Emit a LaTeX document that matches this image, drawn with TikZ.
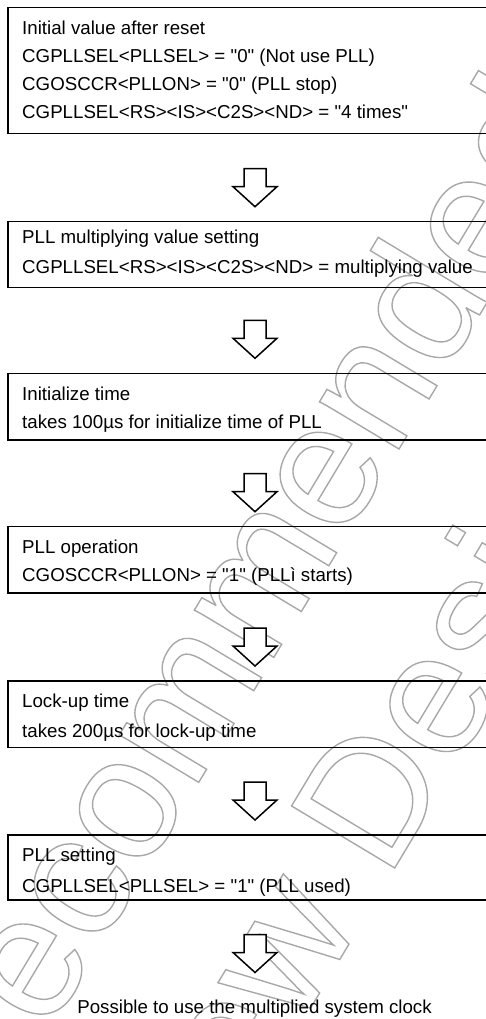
\documentclass[tikz,border=0pt]{standalone}
\usepackage{fontspec}
\setmainfont{Liberation Sans}[Ligatures=TeXOff]
\usetikzlibrary{calc}
\definecolor{wmgray}{gray}{0.66}
\newcommand\outl[1]{\special{pdf:literal direct 1 Tr 1.4 w}#1\special{pdf:literal direct 0 Tr}}
\tikzset{
  box/.style={draw=black, line width=1.3pt, anchor=north west, minimum width=520pt, inner sep=0pt, outer sep=0pt},
  txt/.style={anchor=base west, inner sep=0pt, font=\fontsize{18.7}{22}\selectfont},
  wm/.style={anchor=base west, inner sep=0pt, rotate=59, text=wmgray, font=\fontsize{175}{200}\selectfont},
  arrowline/.style={draw=black, line width=1.5pt, line join=miter, fill=white},
  darrow/.pic={\path[arrowline] (0,-1) -- (-22,-21) -- (-11,-21) -- (-11,-39) -- (11,-39) -- (11,-21) -- (22,-21) -- cycle;}
}
\begin{document}
\begin{tikzpicture}[x=1pt,y=-1pt]
\useasboundingbox (0,0) rectangle (486,1019);
\clip (0,0) rectangle (486,1019);
% watermark
\node[wm] (wm1) at (-18,1143) {\outl{Recommended}};
\node[wm] (wm2) at (182,1222) {\outl{New Design}};
\coordinate (xc) at (255,0);
% boxes
\node[box, minimum height=126pt] (b1) at (8,7.3) {};
\node[box, minimum height=65.6pt] (b2) at (8,221.7) {};
\node[box, minimum height=66.7pt] (b3) at (8,373.3) {};
\node[box, minimum height=66.3pt] (b4) at (8,526.7) {};
\node[box, minimum height=66.7pt] (b5) at (8,681) {};
\node[box, minimum height=65pt] (b6) at (8,835) {};
% texts
\node[txt] (t1a) at (22,35) {Initial value after reset};
\node[txt] (t1b) at (22,63) {CGPLLSEL<PLLSEL> = "0" (Not use PLL)};
\node[txt] (t1c) at (22,91) {CGOSCCR<PLLON> = "0" (PLL stop)};
\node[txt] (t1d) at (22,119) {CGPLLSEL<RS><IS><C2S><ND> = "4 times"};
\node[txt] (t2a) at (22,243) {PLL multiplying value setting};
\node[txt] (t2b) at (22,273.5) {CGPLLSEL<RS><IS><C2S><ND> = multiplying value};
\node[txt] (t3a) at (22,400) {Initialize time};
\node[txt] (t3b) at (22,428) {takes 100µs for initialize time of PLL};
\node[txt] (t4a) at (22,553) {PLL operation};
\node[txt] (t4b) at (22,581) {CGOSCCR<PLLON> = "1" (PLLì starts)};
\node[txt] (t5a) at (22,707) {Lock-up time};
\node[txt] (t5b) at (22,737) {takes 200µs for lock-up time};
\node[txt] (t6a) at (22,861) {PLL setting};
\node[txt] (t6b) at (22,892) {CGPLLSEL<PLLSEL> = "1" (PLL used)};
\node[txt, anchor=base] (fin) at (254.5,1013) {Possible to use the multiplied system clock};
% connectors
\pic at ($(xc |- b2.north)+(0,-14)$) {darrow};
\pic at ($(xc |- b3.north)+(0,-14)$) {darrow};
\pic at ($(xc |- b4.north)+(0,-14)$) {darrow};
\pic at ($(xc |- b5.north)+(0,-14)$) {darrow};
\pic at ($(xc |- b6.north)+(0,-14)$) {darrow};
\pic at ($(xc |- b6.south)+(0,73.5)$) {darrow};
\end{tikzpicture}
\end{document}
